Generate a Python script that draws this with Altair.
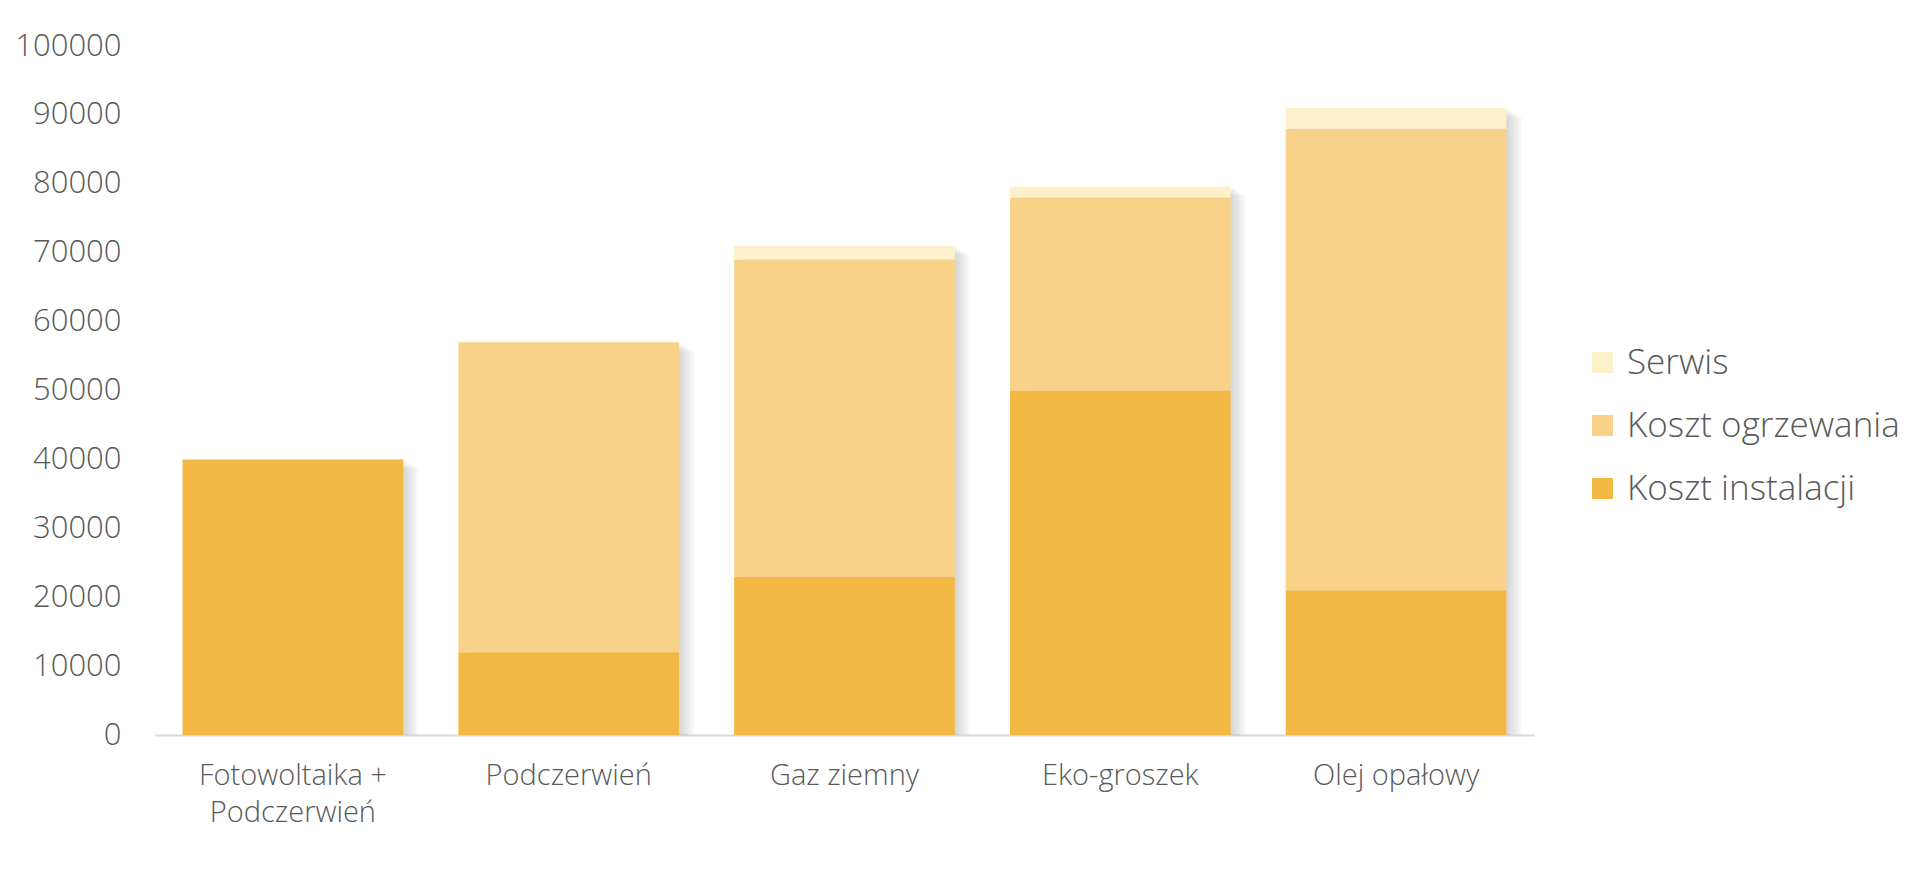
import altair as alt
import pandas as pd

categories = ["Fotowoltaika +\nPodczerwień", "Podczerwień", "Gaz ziemny", "Eko-groszek", "Olej opałowy"]
koszt_instalacji = [40000, 12000, 23000, 50000, 21000]
koszt_ogrzewania = [0, 45000, 46000, 28000, 67000]
serwis = [0, 0, 2000, 1600, 3000]

series_names = ["Koszt instalacji", "Koszt ogrzewania", "Serwis"]
series_values = [koszt_instalacji, koszt_ogrzewania, serwis]
series_colors = ["#F3B843", "#F7D288", "#FDF1CB"]
y_ticks = [0, 10000, 20000, 30000, 40000, 50000, 60000, 70000, 80000, 90000, 100000]

rows = []
for s_idx, (name, vals) in enumerate(zip(series_names, series_values)):
    for cat, v in zip(categories, vals):
        rows.append({"category": cat, "series": name, "value": v, "ord": s_idx})
df = pd.DataFrame(rows)

FONT = "Open Sans"
TXT = "#595959"

x_scale = alt.Scale(paddingInner=0.2, paddingOuter=0.1)
y_scale = alt.Scale(domain=[0, 100000], nice=False)

x_axis = alt.Axis(
    title=None,
    labelAngle=0,
    labelExpr="split(datum.label, '\\n')",
    labelFont=FONT,
    labelFontWeight=300,
    labelFontSize=29,
    labelColor=TXT,
    labelPadding=26,
    labelLineHeight=37,
    labelLimit=500,
    ticks=False,
    tickSize=0,
    domainColor="#D9D9D9",
    domainWidth=2,
)
y_axis = alt.Axis(
    title=None,
    values=y_ticks,
    format="d",
    grid=False,
    domain=False,
    ticks=False,
    tickSize=0,
    labelPadding=34,
    labelFont=FONT,
    labelFontWeight=300,
    labelFontSize=31,
    labelColor=TXT,
)

layers = []
# soft drop shadow built from several offset translucent copies of the totals
for k in range(1, 7):
    sh = (
        alt.Chart(df)
        .transform_aggregate(value="sum(value)", groupby=["category"])
        .mark_bar(color="#7a7a7a", opacity=0.055, xOffset=2.5 * k, yOffset=1.5 * k, clip=True)
        .encode(
            x=alt.X("category:N", sort=categories, scale=x_scale, axis=x_axis),
            y=alt.Y("value:Q", scale=y_scale, axis=y_axis),
        )
    )
    layers.append(sh)

bars = (
    alt.Chart(df)
    .mark_bar()
    .encode(
        x=alt.X("category:N", sort=categories, scale=x_scale, axis=x_axis),
        y=alt.Y("value:Q", stack="zero", scale=y_scale, axis=y_axis),
        color=alt.Color(
            "series:N",
            scale=alt.Scale(domain=series_names[::-1], range=series_colors[::-1]),
            legend=alt.Legend(
                title=None,
                orient="none",
                legendX=1430,
                legendY=299,
                symbolType="square",
                symbolSize=441,
                symbolStrokeWidth=0,
                labelFont=FONT,
                labelFontWeight=300,
                labelFontSize=35,
                labelColor=TXT,
                labelOffset=7,
                rowPadding=27,
                labelLimit=500,
            ),
        ),
        order=alt.Order("ord:Q", sort="ascending"),
    )
)
layers.append(bars)

chart = (
    alt.layer(*layers)
    .properties(
        width=1379,
        height=689,
        autosize=alt.AutoSizeParams(type="none"),
        padding={"left": 147, "top": 38, "right": 378, "bottom": 110},
    )
    .configure_view(stroke=None)
)

chart.save("out.html", embed_options={"renderer": "svg", "actions": False})
